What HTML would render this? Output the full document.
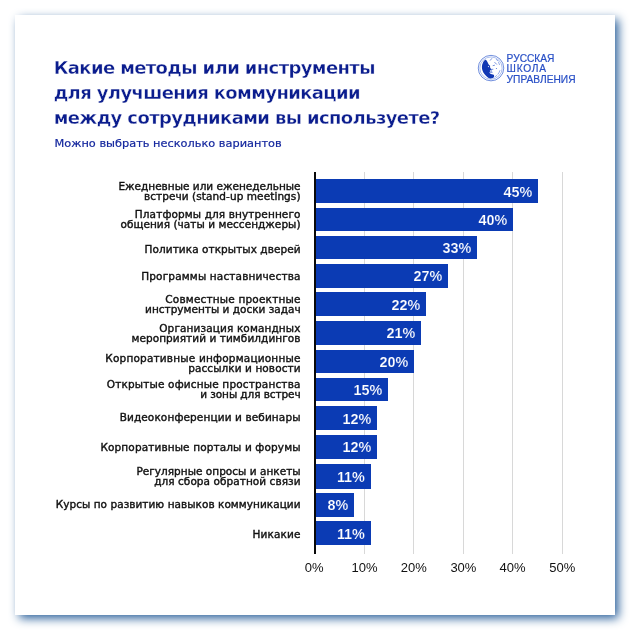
<!DOCTYPE html>
<html lang="ru"><head><meta charset="utf-8"><title>Какие методы или инструменты для улучшения коммуникации</title>
<style>
html,body{margin:0;padding:0;width:640px;height:640px;background:#fff;overflow:hidden}
body{position:relative;font-family:"Liberation Sans",sans-serif}
.card{position:absolute;left:15px;top:15px;width:600px;height:600px;background:#fff;box-shadow:4.2px 4.2px 9.5px 0 rgb(38,93,153)}
.title{position:absolute;left:53.7px;top:54.5px;font-family:"DejaVu Sans","Liberation Sans",sans-serif;font-weight:bold;font-size:18px;letter-spacing:-.62px;line-height:25.35px;color:#0b1d8e;white-space:nowrap;-webkit-text-stroke:.35px #fff}
.sub{position:absolute;left:54.5px;top:135.2px;font-family:"DejaVu Sans","Liberation Sans",sans-serif;font-size:11.35px;line-height:16px;color:#14279e;white-space:nowrap;-webkit-text-stroke:.2px #14279e}
.logo{position:absolute;left:474px;top:50px}
.brand{position:absolute;left:506.6px;top:53.5px;font-size:10.2px;line-height:10.5px;color:#284fc6;white-space:nowrap;-webkit-text-stroke:.2px #284fc6}
.axis{position:absolute;left:314px;top:171.9px;width:1.6px;height:381.8px;background:#0a0a0a}
.grid{position:absolute;top:171.9px;width:1px;height:381.7px;background:#d8d8d8}
.bar{position:absolute;left:315.4px;background:#0b3bb4;color:#fff;font-weight:bold;font-size:14.4px;-webkit-text-stroke:.2px #0b3bb4;text-align:right;box-sizing:border-box;padding-right:5.7px;white-space:nowrap}
.lab{position:absolute;left:40px;width:260.6px;text-align:right;font-family:"DejaVu Sans","Liberation Sans",sans-serif;font-size:10.5px;line-height:10px;color:#111;white-space:nowrap;-webkit-text-stroke:.4px #111}
.tick{position:absolute;top:558.6px;width:60px;text-align:center;font-size:13px;line-height:18px;color:#111;white-space:nowrap}
</style></head><body>
<div class="card"></div>
<div class="title">Какие методы или инструменты<br>для улучшения коммуникации<br>между сотрудниками вы используете?</div>
<div class="sub">Можно выбрать несколько вариантов</div>
<svg class="logo" width="36" height="36" viewBox="0 0 36 36">
<circle cx="17" cy="18.1" r="12.75" fill="none" stroke="#4068d2" stroke-width="0.75"/>
<circle cx="17" cy="18.1" r="11.15" fill="none" stroke="#5d80dc" stroke-width="0.5"/>
<path d="M10.9 10 C9.9 10.9 9.3 11.7 9 12.4 C8.2 13.9 7.9 15.5 7.9 17.1 C7.9 18.4 8.1 19.6 8.6 20.8 C9 22 9.6 23.1 10.4 24.1 C11.2 25.2 12.2 26.1 13.25 26.9 C14.2 27.7 15.1 28.3 16.1 28.55 C17.1 28.7 18.1 28.5 18.9 28.1 C19.4 27.8 19.8 27.5 20.05 27.1 L20.05 25 C19.3 24.6 18.6 24.4 17.9 24.3 C17.2 24.2 16.6 24 16.1 23.6 C15.7 23.2 15.5 22.7 15.4 22.2 L16.3 21.9 L15.7 21 L16.1 20.6 L17.2 19.4 C16.9 18.9 16.7 18.5 16.5 18 C16.2 17.7 16 17.4 15.8 17.1 C16.1 16.6 16.2 16.1 16.1 15.7 C15.6 15.4 15.1 15 14.7 14.5 C14.3 13.8 14 13.1 13.7 12.4 C13.2 11.5 12.7 10.7 12.1 10 C11.7 9.8 11.3 9.8 10.9 10 Z" fill="#1138b4"/>
<circle cx="14.4" cy="16.6" r="0.55" fill="#fff"/>
<path d="M16.3 10.3 L17.7 8.6 M20.75 12.4 L22.6 14.25 M19.1 15.6 L20.5 15.3 M17.2 19.4 L18.9 19.3 M17.2 19.7 L17.1 21.6 M16.2 22.3 L18.2 22.3" fill="none" stroke="#2f58ca" stroke-width="0.65" stroke-linecap="round"/>
<path d="M22.2 9.4 L24 10.9 M24.6 12.4 L25.5 14.6 M25.9 20.6 C25.4 22 24.8 23.2 24 24.2 M22.6 25.6 L20.9 26.9" fill="none" stroke="#4a70d6" stroke-width="0.6" stroke-linecap="round"/>
<circle cx="22.4" cy="18.5" r="0.5" fill="#3a62d0"/>
</svg>

<div class="brand">РУССКАЯ<br><span style="letter-spacing:.75px">ШКОЛА</span><br>УПРАВЛЕНИЯ</div>
<div class="grid" style="left:363.95px"></div><div class="grid" style="left:413.30px"></div><div class="grid" style="left:462.90px"></div><div class="grid" style="left:512.00px"></div><div class="grid" style="left:561.80px"></div>
<div class="lab" style="top:181.00px"><span style="letter-spacing:0.01px">Ежедневные или еженедельные</span><br><span style="letter-spacing:0.08px">встречи (stand-up meetings)</span></div><div class="bar" style="top:178.75px;height:24.15px;line-height:26.15px;width:222.70px">45%</div><div class="lab" style="top:209.00px"><span style="letter-spacing:0.11px">Платформы для внутреннего</span><br><span style="letter-spacing:0.05px">общения (чаты и мессенджеры)</span></div><div class="bar" style="top:207.90px;height:23.50px;line-height:25.50px;width:197.50px">40%</div><div class="lab" style="top:244.00px"><span style="letter-spacing:0.06px">Политика открытых дверей</span></div><div class="bar" style="top:236.00px;height:23.00px;line-height:25.00px;width:161.70px">33%</div><div class="lab" style="top:271.00px"><span style="letter-spacing:0.15px">Программы наставничества</span></div><div class="bar" style="top:264.00px;height:23.75px;line-height:25.75px;width:132.50px">27%</div><div class="lab" style="top:294.00px"><span style="letter-spacing:0.18px">Совместные проектные</span><br>инструменты и доски задач</div><div class="bar" style="top:292.25px;height:24.15px;line-height:26.15px;width:110.60px">22%</div><div class="lab" style="top:323.00px"><span style="letter-spacing:0.12px">Организация командных</span><br><span style="letter-spacing:0.07px">мероприятий и тимбилдингов</span></div><div class="bar" style="top:320.80px;height:23.85px;line-height:25.85px;width:105.50px">21%</div><div class="lab" style="top:353.00px"><span style="letter-spacing:0.19px">Корпоративные информационные</span><br><span style="letter-spacing:0.08px">рассылки и новости</span></div><div class="bar" style="top:349.75px;height:23.15px;line-height:25.15px;width:98.70px">20%</div><div class="lab" style="top:379.00px"><span style="letter-spacing:0.16px">Открытые офисные пространства</span><br><span style="letter-spacing:-0.08px">и зоны для встреч</span></div><div class="bar" style="top:378.00px;height:23.25px;line-height:25.25px;width:72.70px">15%</div><div class="lab" style="top:412.00px"><span style="letter-spacing:0.12px">Видеоконференции и вебинары</span></div><div class="bar" style="top:406.10px;height:24.10px;line-height:26.10px;width:61.50px">12%</div><div class="lab" style="top:441.50px"><span style="letter-spacing:0.12px">Корпоративные порталы и форумы</span></div><div class="bar" style="top:435.10px;height:23.90px;line-height:25.90px;width:61.50px">12%</div><div class="lab" style="top:466.00px"><span style="letter-spacing:0.02px">Регулярные опросы и анкеты</span><br><span style="letter-spacing:0.06px">для сбора обратной связи</span></div><div class="bar" style="top:464.15px;height:24.45px;line-height:26.45px;width:55.20px">11%</div><div class="lab" style="top:499.00px"><span style="letter-spacing:0.04px">Курсы по развитию навыков коммуникации</span></div><div class="bar" style="top:493.00px;height:23.95px;line-height:25.95px;width:38.70px">8%</div><div class="lab" style="top:529.00px"><span style="letter-spacing:0.14px">Никакие</span></div><div class="bar" style="top:521.30px;height:24.00px;line-height:26.00px;width:55.20px">11%</div>
<div class="axis"></div>
<div class="tick" style="left:284.20px">0%</div><div class="tick" style="left:334.45px">10%</div><div class="tick" style="left:383.80px">20%</div><div class="tick" style="left:433.40px">30%</div><div class="tick" style="left:482.50px">40%</div><div class="tick" style="left:532.30px">50%</div>
</body></html>
